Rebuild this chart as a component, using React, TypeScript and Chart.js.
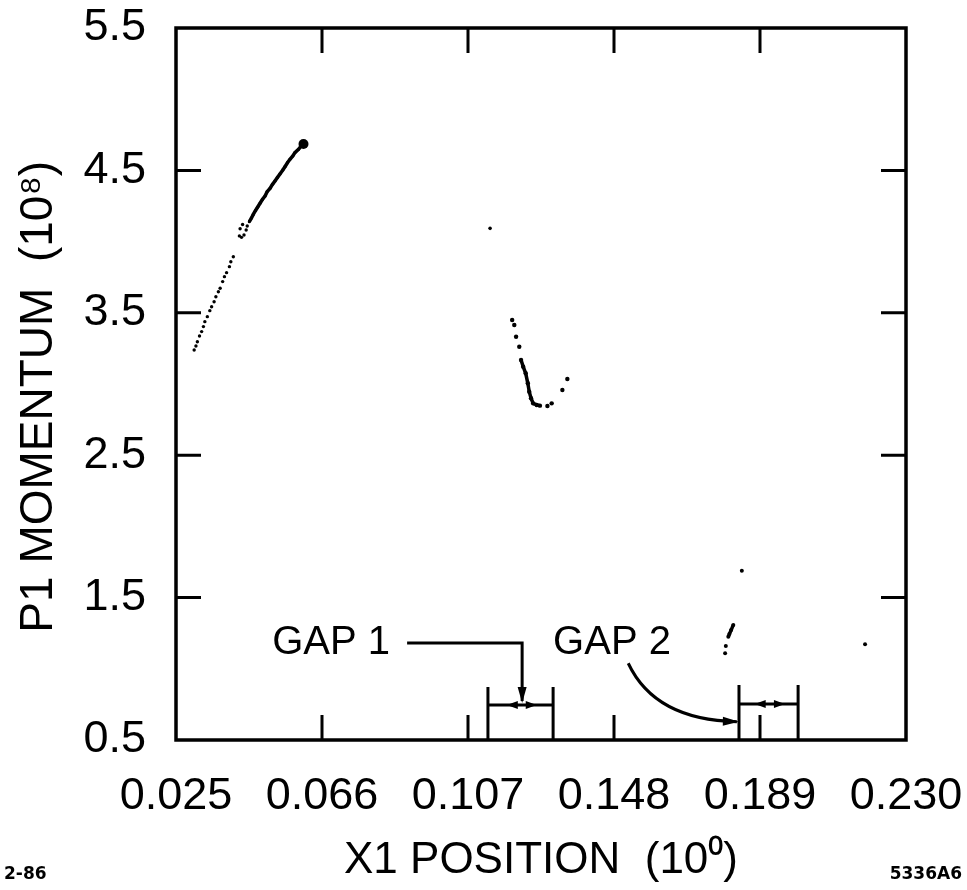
import React, { useEffect, useRef } from 'react';
import { Chart, registerables } from 'chart.js';

Chart.register(...registerables);

// ---- axes ----
const X_TICKS = [0.025, 0.066, 0.107, 0.148, 0.189, 0.23];
const Y_TICKS = [0.5, 1.5, 2.5, 3.5, 4.5, 5.5];
const X_TITLE = 'X1 POSITION  (10⁰)';
const Y_TITLE = 'P1 MOMENTUM  (10⁸)';
const NOTE_LEFT = '2-86';
const NOTE_RIGHT = '5336A6';

// ---- data ----
// upper-left track, dense part (top end first)
const upperTrackX = [0.0608, 0.0600, 0.0594, 0.0584, 0.0578, 0.0570, 0.0563, 0.0556, 0.0550, 0.0542, 0.0535, 0.0528, 0.0521, 0.0514, 0.0506, 0.0500, 0.0493, 0.0486, 0.0479, 0.0473, 0.0467, 0.0462, 0.0456];
const upperTrackY = [4.685, 4.667, 4.648, 4.625, 4.601, 4.578, 4.554, 4.526, 4.503, 4.475, 4.451, 4.426, 4.402, 4.374, 4.351, 4.320, 4.297, 4.269, 4.241, 4.217, 4.191, 4.166, 4.140];
// upper-left track, scattered lower part
const lowerTrackX = [0.0450, 0.0447, 0.0441, 0.0434, 0.0437, 0.0430, 0.0428, 0.0411, 0.0404, 0.0400, 0.0392, 0.0386, 0.0381, 0.0374, 0.0369, 0.0362, 0.0357, 0.0350, 0.0345, 0.0338, 0.0331, 0.0327, 0.0322, 0.0316, 0.0310, 0.0306, 0.0301];
const lowerTrackY = [4.110, 4.081, 4.046, 4.030, 4.120, 4.090, 4.040, 3.894, 3.859, 3.824, 3.782, 3.754, 3.719, 3.672, 3.648, 3.613, 3.578, 3.543, 3.515, 3.473, 3.438, 3.403, 3.368, 3.337, 3.297, 3.267, 3.239];
// middle valley
const valleyX = [0.1194, 0.1200, 0.1205, 0.1214, 0.1219, 0.1225, 0.1232, 0.1238, 0.1242, 0.1247, 0.1253, 0.1263, 0.1272, 0.1293, 0.1305, 0.1335, 0.1349];
const valleyY = [3.449, 3.414, 3.332, 3.262, 3.169, 3.122, 3.075, 3.005, 2.946, 2.900, 2.864, 2.853, 2.848, 2.846, 2.864, 2.958, 3.035];
const loneX = [0.1132];
const loneY = [4.093];
// right group
const rightX = [0.1839, 0.1815, 0.1809, 0.1804, 0.1801, 0.1794, 0.1792, 0.2185];
const rightY = [1.689, 1.308, 1.272, 1.244, 1.225, 1.160, 1.109, 1.172];

// ---- gap annotations (data units) ----
const GAP1_X = [0.1126, 0.1309];
const GAP2_X = [0.1831, 0.1997];
const GAP_BAR_TOP = [0.872, 0.886];
const GAP_BRACKET_Y = [0.746, 0.753];
const GAP_HEADS_1 = [0.1179, 0.1263];
const GAP_HEADS_2 = [0.1875, 0.1960];
const GAP_LABELS = ['GAP 1', 'GAP 2'];
const GAP_LABEL_Y = 1.181;
const GAP1_LABEL_RIGHT_X = 0.0851;
const GAP1_LEADER_X = [0.0899, 0.1222];
const GAP2_LABEL_LEFT_X = 0.1309;
const GAP2_CURVE = [[0.1520, 1.039], [0.1595, 0.640], [0.1825, 0.629]];

const pts = (xs: number[], ys: number[]) => xs.map((x, i) => ({ x, y: ys[i] }));

const FONT = "'Liberation Sans', Arial, sans-serif";
const INK = '#000';
const TICK_LEN = 25;

function arrowHead(ctx: CanvasRenderingContext2D, x: number, y: number, ang: number, len: number, half: number) {
  ctx.beginPath();
  ctx.moveTo(x, y);
  ctx.lineTo(x - len * Math.cos(ang) + half * Math.sin(ang), y - len * Math.sin(ang) - half * Math.cos(ang));
  ctx.lineTo(x - len * Math.cos(ang) - half * Math.sin(ang), y - len * Math.sin(ang) + half * Math.cos(ang));
  ctx.closePath();
  ctx.fill();
}

const framePlugin = {
  id: 'frameAndNotes',
  afterDraw(chart: any) {
    const { ctx, chartArea: a } = chart;
    const xs = chart.scales.x;
    const ys = chart.scales.y;
    const px = (v: number) => xs.getPixelForValue(v);
    const py = (v: number) => ys.getPixelForValue(v);
    ctx.save();
    ctx.strokeStyle = INK;
    ctx.fillStyle = INK;
    ctx.lineCap = 'butt';
    // frame
    ctx.lineWidth = 3.5;
    ctx.strokeRect(a.left, a.top, a.right - a.left, a.bottom - a.top);
    // inward ticks
    ctx.lineWidth = 3;
    ctx.beginPath();
    X_TICKS.slice(1, -1).forEach((v) => {
      const x = px(v);
      ctx.moveTo(x, a.bottom); ctx.lineTo(x, a.bottom - TICK_LEN);
      ctx.moveTo(x, a.top); ctx.lineTo(x, a.top + TICK_LEN);
    });
    Y_TICKS.slice(1, -1).forEach((v) => {
      const y = py(v);
      ctx.moveTo(a.left, y); ctx.lineTo(a.left + TICK_LEN, y);
      ctx.moveTo(a.right, y); ctx.lineTo(a.right - TICK_LEN, y);
    });
    ctx.stroke();

    // gap brackets
    const gaps = [
      { r: GAP1_X, heads: GAP_HEADS_1, top: GAP_BAR_TOP[0], br: GAP_BRACKET_Y[0] },
      { r: GAP2_X, heads: GAP_HEADS_2, top: GAP_BAR_TOP[1], br: GAP_BRACKET_Y[1] },
    ];
    gaps.forEach((g) => {
      ctx.lineWidth = 3;
      ctx.beginPath();
      g.r.forEach((v) => { ctx.moveTo(px(v), a.bottom); ctx.lineTo(px(v), py(g.top)); });
      ctx.moveTo(px(g.r[0]), py(g.br)); ctx.lineTo(px(g.r[1]), py(g.br));
      ctx.stroke();
      arrowHead(ctx, px(g.heads[0]), py(g.br), Math.PI, 11, 4);
      arrowHead(ctx, px(g.heads[1]), py(g.br), 0, 11, 4);
    });

    // GAP 1 leader
    ctx.lineWidth = 3;
    ctx.beginPath();
    ctx.moveTo(px(GAP1_LEADER_X[0]), py(GAP_LABEL_Y));
    ctx.lineTo(px(GAP1_LEADER_X[1]), py(GAP_LABEL_Y));
    ctx.lineTo(px(GAP1_LEADER_X[1]), py(GAP_BRACKET_Y[0]) - 4);
    ctx.stroke();
    arrowHead(ctx, px(GAP1_LEADER_X[1]), py(GAP_BRACKET_Y[0]) - 2, Math.PI / 2, 16, 4.5);

    // GAP 2 curve
    const [p0, c, p2] = GAP2_CURVE;
    ctx.beginPath();
    ctx.moveTo(px(p0[0]), py(p0[1]));
    ctx.quadraticCurveTo(px(c[0]), py(c[1]), px(p2[0]), py(p2[1]));
    ctx.stroke();
    const ang = Math.atan2(py(p2[1]) - py(c[1]), px(p2[0]) - px(c[0]));
    arrowHead(ctx, px(p2[0]) + 2, py(p2[1]), ang, 16, 4.5);

    // GAP labels
    ctx.font = `40px ${FONT}`;
    ctx.textBaseline = 'middle';
    ctx.textAlign = 'right';
    ctx.fillText(GAP_LABELS[0], px(GAP1_LABEL_RIGHT_X), py(GAP_LABEL_Y));
    ctx.textAlign = 'left';
    ctx.fillText(GAP_LABELS[1], px(GAP2_LABEL_LEFT_X), py(GAP_LABEL_Y));

    // corner notes
    ctx.font = `bold 17px 'DejaVu Sans', ${FONT}`;
    ctx.textBaseline = 'alphabetic';
    ctx.textAlign = 'left';
    ctx.fillText(NOTE_LEFT, 4, 879);
    ctx.textAlign = 'right';
    ctx.fillText(NOTE_RIGHT, 962, 879);
    ctx.restore();
  },
};

export default function App() {
  const ref = useRef<HTMLCanvasElement | null>(null);
  useEffect(() => {
    if (!ref.current) return;
    const black = INK;
    const chart = new Chart(ref.current, {
      type: 'scatter',
      data: {
        datasets: [
          {
            label: 'track upper',
            data: pts(upperTrackX, upperTrackY),
            showLine: true,
            borderColor: black,
            backgroundColor: black,
            borderWidth: 3.5,
            pointRadius: (c: any) => (c.dataIndex === 0 ? 5 : 1.6),
            pointBorderWidth: 0,
          },
          {
            label: 'track lower',
            data: pts(lowerTrackX, lowerTrackY),
            showLine: false,
            backgroundColor: black,
            borderColor: black,
            pointRadius: 1.7,
            pointBorderWidth: 0,
          },
          {
            label: 'valley core',
            data: pts(valleyX.slice(4, 13), valleyY.slice(4, 13)),
            showLine: true,
            borderColor: black,
            backgroundColor: black,
            borderWidth: 3.5,
            pointRadius: 0,
          },
          {
            label: 'valley',
            data: pts(valleyX, valleyY),
            showLine: false,
            backgroundColor: black,
            borderColor: black,
            pointRadius: 2.2,
            pointBorderWidth: 0,
          },
          {
            label: 'lone',
            data: pts(loneX, loneY),
            showLine: false,
            backgroundColor: black,
            pointRadius: 1.8,
            pointBorderWidth: 0,
          },
          {
            label: 'right dash',
            data: pts(rightX.slice(1, 5), rightY.slice(1, 5)),
            showLine: true,
            borderColor: black,
            borderWidth: 3.5,
            pointRadius: 0,
          },
          {
            label: 'right',
            data: pts(rightX, rightY),
            showLine: false,
            backgroundColor: black,
            pointRadius: 2,
            pointBorderWidth: 0,
          },
        ],
      },
      options: {
        responsive: false,
        animation: false,
        events: [],
        layout: { padding: { left: 0, right: 61, top: 28, bottom: 0 } },
        plugins: { legend: { display: false }, tooltip: { enabled: false } },
        scales: {
          x: {
            type: 'linear',
            min: X_TICKS[0],
            max: X_TICKS[X_TICKS.length - 1],
            afterBuildTicks: (s: any) => { s.ticks = X_TICKS.map((value) => ({ value })); },
            afterFit: (s: any) => { s.height = 150; s.paddingLeft = 0; s.paddingRight = 0; s.paddingTop = 0; s.paddingBottom = 0; },
            grid: { display: false, drawTicks: false },
            border: { display: false },
            ticks: {
              autoSkip: false,
              maxRotation: 0,
              padding: 30,
              color: INK,
              font: { family: FONT, size: 45 },
              callback: (v: any) => Number(v).toFixed(3),
            },
            title: {
              display: true,
              text: X_TITLE,
              color: INK,
              font: { family: FONT, size: 44 },
              padding: { top: 0, bottom: 3 },
            },
          },
          y: {
            type: 'linear',
            min: Y_TICKS[0],
            max: Y_TICKS[Y_TICKS.length - 1],
            afterBuildTicks: (s: any) => { s.ticks = Y_TICKS.map((value) => ({ value })); },
            afterFit: (s: any) => { s.width = 176; s.paddingLeft = 0; s.paddingRight = 0; s.paddingTop = 0; s.paddingBottom = 0; },
            grid: { display: false, drawTicks: false },
            border: { display: false },
            ticks: {
              autoSkip: false,
              padding: 30,
              color: INK,
              font: { family: FONT, size: 45 },
              callback: (v: any) => Number(v).toFixed(1),
            },
            title: {
              display: true,
              text: Y_TITLE + '  ',
              color: INK,
              font: { family: FONT, size: 46 },
              padding: { top: 12, bottom: 0 },
            },
          },
        },
      } as any,
      plugins: [framePlugin],
    });
    return () => chart.destroy();
  }, []);

  return (
    <div style={{ position: 'fixed', left: 0, top: 0, width: 967, height: 890, background: '#fff' }}>
      <canvas ref={ref} width={967} height={890} style={{ display: 'block', width: 967, height: 890 }} />
    </div>
  );
}
